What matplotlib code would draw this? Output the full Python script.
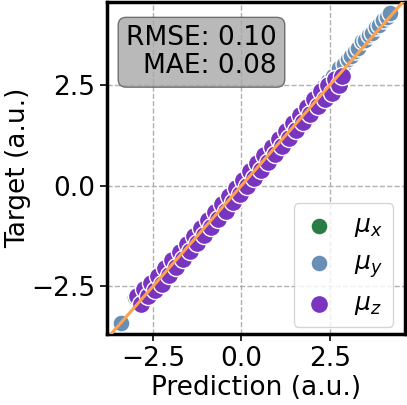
import matplotlib
matplotlib.use("Agg")
import matplotlib.pyplot as plt

# ── Data (prediction, target) per dipole component ────────────────────────────
mux_pred = [-3.00, -2.90, -2.80, -2.70, -2.55, -2.40, -2.25, -2.10, -1.95, -1.80,
            -1.65, -1.50, -1.35, -1.20, -1.05, -0.90, -0.75, -0.60, -0.45, -0.30,
            -0.15, 0.00, 0.15, 0.30, 0.45, 0.60, 0.75, 0.90, 1.05, 1.20,
            1.35, 1.50, 1.65, 1.80, 1.95, 2.10, 2.25, 2.40, 2.55, 2.70]
mux_true = [-2.78, -2.70, -2.62, -2.52, -2.45, -2.30, -2.18, -2.00, -1.88, -1.72,
            -1.58, -1.40, -1.30, -1.12, -1.00, -0.80, -0.72, -0.50, -0.42, -0.20,
            -0.12, -0.10, 0.05, 0.20, 0.38, 0.50, 0.72, 0.80, 1.00, 1.12,
            1.30, 1.42, 1.60, 1.72, 1.92, 2.00, 2.22, 2.30, 2.50, 2.62]

muy_pred = [-3.40, -2.60, -2.30, -2.00, -1.70, -1.40, -1.10, -0.80, -0.50, -0.20,
            0.10, 0.35, 0.60, 0.90, 1.20, 1.50, 1.80, 2.00, 2.15, 2.30,
            2.45, 2.60, 2.75, 2.90, 3.00, 3.10, 3.20, 3.30, 3.40, 3.50,
            3.60, 3.70, 3.80, 3.90, 4.00, 4.10, 4.20]
muy_true = [-3.42, -2.50, -2.18, -1.92, -1.60, -1.35, -1.02, -0.75, -0.45, -0.25,
            0.00, 0.25, 0.52, 0.84, 1.12, 1.44, 1.78, 2.12, 2.30, 2.45,
            2.60, 2.72, 2.92, 3.02, 3.15, 3.22, 3.35, 3.42, 3.58, 3.62,
            3.75, 3.80, 3.95, 4.00, 4.12, 4.18, 4.28]

muz_pred = [-2.95, -2.85, -2.75, -2.65, -2.55, -2.45, -2.35, -2.25, -2.15, -2.05,
            -1.95, -1.85, -1.75, -1.65, -1.55, -1.45, -1.35, -1.25, -1.15, -1.05,
            -0.95, -0.85, -0.75, -0.65, -0.55, -0.45, -0.35, -0.25, -0.15, -0.05,
            0.05, 0.15, 0.25, 0.35, 0.45, 0.55, 0.65, 0.75, 0.85, 0.95,
            1.05, 1.15, 1.25, 1.35, 1.45, 1.55, 1.65, 1.75, 1.85, 1.95,
            2.05, 2.15, 2.25, 2.35, 2.45, 2.55, 2.65, 2.75, 2.85]
muz_true = [-2.75, -2.95, -2.58, -2.75, -2.42, -2.60, -2.25, -2.45, -2.05, -2.22,
            -1.85, -2.02, -1.65, -1.82, -1.45, -1.62, -1.25, -1.42, -1.05, -1.22,
            -0.85, -1.02, -0.65, -0.82, -0.45, -0.62, -0.25, -0.42, -0.05, -0.22,
            0.15, -0.02, 0.35, 0.18, 0.55, 0.38, 0.75, 0.58, 0.95, 0.78,
            1.15, 0.98, 1.35, 1.18, 1.55, 1.38, 1.75, 1.58, 1.95, 1.78,
            2.15, 1.98, 2.35, 2.15, 2.50, 2.30, 2.65, 2.50, 2.72]

rmse_val = 0.10
mae_val = 0.08

# ── Style ─────────────────────────────────────────────────────────────────────
COL_X = "#2a7d46"
COL_Y = "#6a8fb5"
COL_Z = "#7a35c0"
COL_LINE = "#ffa24f"

plt.rcParams.update({
    "font.family": "DejaVu Sans",
    "font.size": 19,
})

fig = plt.figure(figsize=(4.07, 4.05), dpi=100)
ax = fig.add_axes([0.263, 0.175, 0.732, 0.82])

ax.scatter(mux_pred, mux_true, s=150, color=COL_X, edgecolor="white",
           linewidth=1.0, label=r"$\mu_x$", zorder=2)
ax.scatter(muy_pred, muy_true, s=150, color=COL_Y, edgecolor="white",
           linewidth=1.0, label=r"$\mu_y$", zorder=2)
ax.scatter(muz_pred, muz_true, s=170, color=COL_Z, edgecolor="white",
           linewidth=1.0, label=r"$\mu_z$", zorder=2)

ax.set_xlim(-3.8, 4.62)
ax.set_ylim(-3.69, 4.56)
ax.plot([-3.8, 4.62], [-3.8, 4.62], color=COL_LINE, linewidth=2.2, zorder=3)

ax.set_xticks([-2.5, 0.0, 2.5])
ax.set_yticks([-2.5, 0.0, 2.5])
ax.grid(True, linestyle="--", color="#b0b0b0", linewidth=1)
ax.set_axisbelow(True)
for sp in ax.spines.values():
    sp.set_linewidth(2.5)
ax.tick_params(width=1.2, length=5)

ax.set_xlabel("Prediction (a.u.)", labelpad=2)
ax.set_ylabel("Target (a.u.)", labelpad=0)

ax.text(0.57, 0.93, f"RMSE: {rmse_val:.2f}\nMAE: {mae_val:.2f}",
        transform=ax.transAxes, ha="right", va="top", fontsize=19,
        multialignment="right", linespacing=1.1,
        bbox=dict(boxstyle="round,pad=0.3", facecolor="#a8a8a8", alpha=0.8,
                  edgecolor="#555555"))

ax.legend(loc="lower right", bbox_to_anchor=(0.96, 0.021), borderaxespad=0,
          fontsize=18, handletextpad=0.8, borderpad=0.4,
          labelspacing=0.45, handlelength=1.2)

fig.savefig("out.png", dpi=100)
